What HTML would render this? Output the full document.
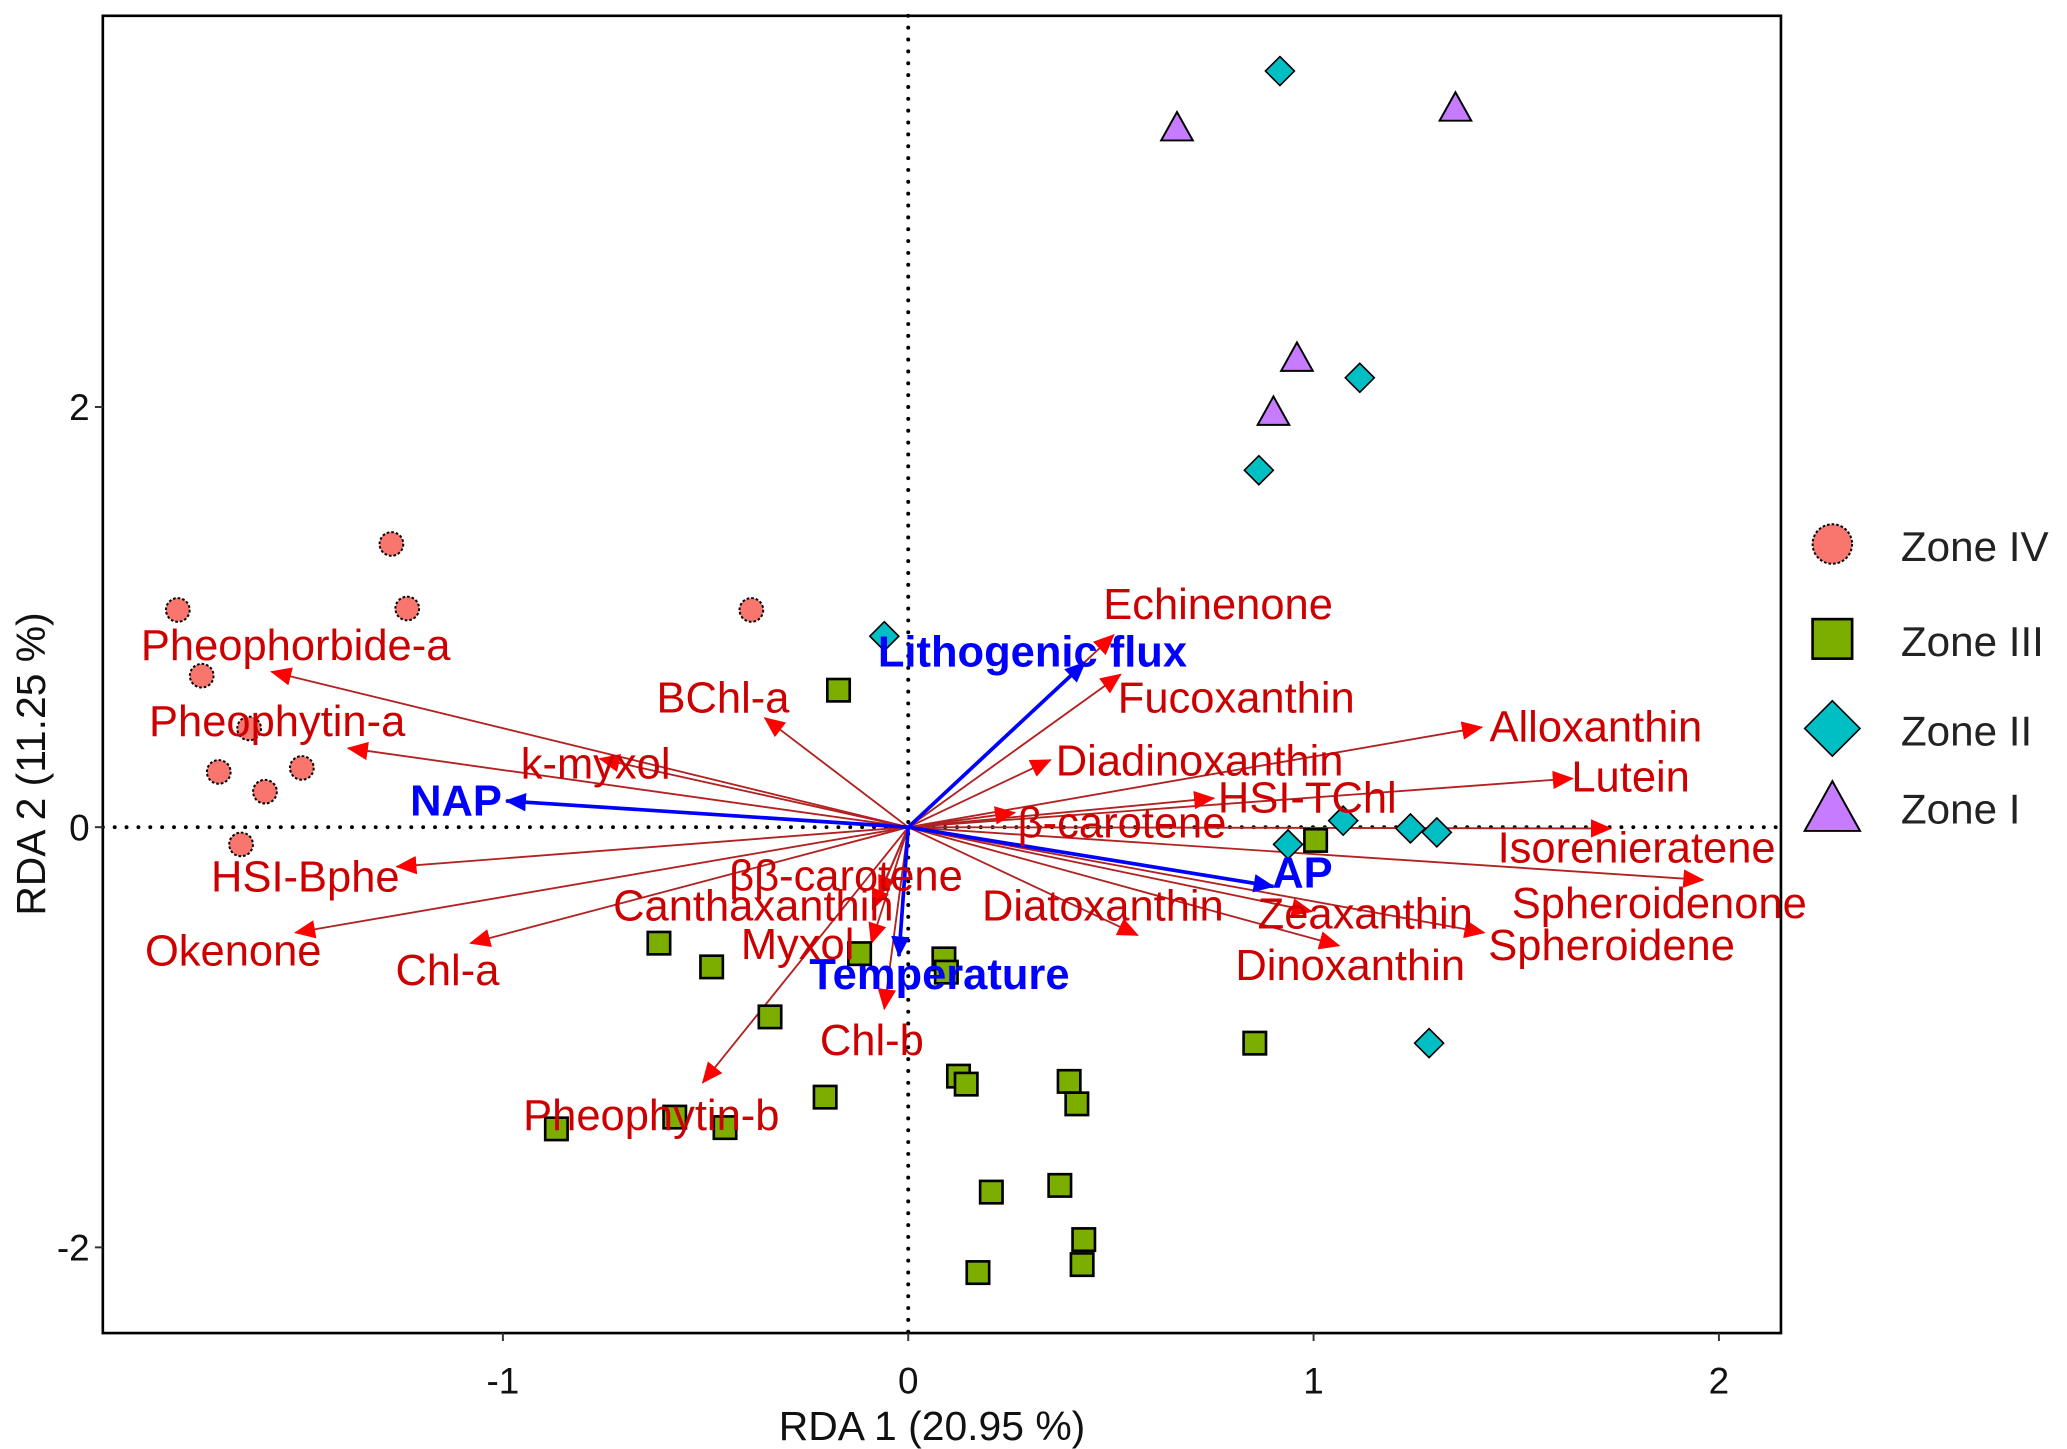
<!DOCTYPE html>
<html><head><meta charset="utf-8"><style>
html,body{margin:0;padding:0;background:#fff;}
svg{display:block;}
text{font-family:"Liberation Sans",sans-serif;}
</style></head><body>
<svg id="chart" width="2067" height="1449" viewBox="0 0 1568 1100" preserveAspectRatio="none" xmlns="http://www.w3.org/2000/svg">
<defs>
<marker id="ahR" markerWidth="16" markerHeight="14" refX="15" refY="7" orient="auto" markerUnits="userSpaceOnUse" viewBox="0 0 16 14"><path d="M0,0 L16,7 L0,14 z" fill="#ff0000"/></marker>
<marker id="ahB" markerWidth="16" markerHeight="14" refX="15" refY="7" orient="auto" markerUnits="userSpaceOnUse" viewBox="0 0 16 14"><path d="M0,0 L16,7 L0,14 z" fill="#0000ff"/></marker>
</defs>
<g id="plot"></g>
</svg>
<script>
// ---- data ----
const xTicks = [-1, 0, 1, 2];
const yTicks = [-2, 0, 2];
const z4x = [-1.275,-1.802,-1.236,-0.387,-1.743,-1.626,-1.701,-1.496,-1.587,-1.646];
const z4y = [1.348,1.034,1.041,1.034,0.721,0.470,0.263,0.282,0.169,-0.082];
const z3x = [-0.172,-0.615,-0.485,-0.341,-0.120,0.088,0.094,-0.205,0.124,0.143,0.397,0.416,0.855,1.005,-0.868,-0.576,-0.452,0.205,0.374,0.433,0.429,0.172];
const z3y = [0.652,-0.552,-0.665,-0.903,-0.602,-0.627,-0.690,-1.285,-1.185,-1.223,-1.210,-1.317,-1.028,-0.063,-1.436,-1.380,-1.430,-1.737,-1.705,-1.963,-2.082,-2.120];
const z2x = [0.917,1.114,0.865,-0.059,1.073,0.937,1.239,1.304,1.285];
const z2y = [3.599,2.139,1.699,0.909,0.031,-0.082,-0.006,-0.025,-1.028];
const z1x = [0.663,1.350,0.959,0.901];
const z1y = [3.329,3.423,2.232,1.975];
const pigNames = ["Echinenone","Fucoxanthin","Alloxanthin","Diadinoxanthin","Lutein","HSI-TChl","β-carotene","Isorenieratene","Spheroidenone","Spheroidene","Zeaxanthin","Dinoxanthin","Diatoxanthin","ββ-carotene","Canthaxanthin","Myxol","Chl-b","Pheophytin-b","Chl-a","Okenone","HSI-Bphe","k-myxol","Pheophytin-a","Pheophorbide-a","BChl-a"];
const pigX = [0.507,0.524,1.415,0.351,1.639,0.754,0.263,1.733,1.961,1.421,0.995,1.063,0.566,-0.072,-0.088,-0.091,-0.059,-0.507,-1.080,-1.512,-1.262,-0.761,-1.382,-1.571,-0.354];
const pigY = [0.915,0.727,0.476,0.320,0.232,0.138,0.069,-0.006,-0.251,-0.502,-0.401,-0.564,-0.514,-0.326,-0.389,-0.552,-0.865,-1.216,-0.552,-0.502,-0.188,0.326,0.376,0.740,0.520];
const pigLabX = [0.481,0.517,1.434,0.364,1.636,0.764,0.270,1.454,1.489,1.431,0.862,0.807,0.182,-0.442,-0.728,-0.413,-0.218,-0.950,-1.265,-1.883,-1.720,-0.956,-1.873,-1.893,-0.621];
const pigLabY = [0.991,0.545,0.408,0.245,0.169,0.069,-0.050,-0.169,-0.433,-0.633,-0.483,-0.727,-0.445,-0.301,-0.445,-0.627,-1.085,-1.442,-0.752,-0.658,-0.307,0.232,0.433,0.796,0.545];
const envNames = ["Lithogenic flux","NAP","AP","Temperature"];
const envX = [0.436,-0.992,0.901,-0.023];
const envY = [0.784,0.125,-0.282,-0.614];
const envLabX = [-0.075,-1.229,0.898,-0.244];
const envLabY = [0.765,0.056,-0.288,-0.771];
const xDomain = [-1.987, 2.153];
const yDomain = [-2.408, 3.862];

// ---- axis functions ----
const L=78, R=1351, T=12, B=1012;
function sx(v){return L + (v - xDomain[0])/(xDomain[1]-xDomain[0])*(R-L);}
function sy(v){return B - (v - yDomain[0])/(yDomain[1]-yDomain[0])*(B-T);}
const NS="http://www.w3.org/2000/svg";
const g=document.getElementById('plot');
function mk(tag,attrs,parent){const e=document.createElementNS(NS,tag);for(const k in attrs)e.setAttribute(k,attrs[k]);(parent||g).appendChild(e);return e;}

let e;
e=mk('line',{x1:L,x2:R,y1:sy(0),y2:sy(0),stroke:'#000','stroke-width':3,'stroke-dasharray':'0 9','stroke-linecap':'round'});


e=mk('line',{x1:sx(0),x2:sx(0),y1:T,y2:B,stroke:'#000','stroke-width':3,'stroke-dasharray':'0 9','stroke-linecap':'round'});



pigNames.forEach((n,i)=>{
  let a=mk('line',{x1:sx(0),y1:sy(0),x2:sx(pigX[i]),y2:sy(pigY[i]),stroke:'#b22222','stroke-width':1.4,'marker-end':'url(#ahR)'});
  
  
});
envNames.forEach((n,i)=>{
  let a=mk('line',{x1:sx(0),y1:sy(0),x2:sx(envX[i]),y2:sy(envY[i]),stroke:'#0000ff','stroke-width':2.8,'marker-end':'url(#ahB)'});
  
  
});

function circ(cx,cy,r){return mk('circle',{cx:cx,cy:cy,r:r,fill:'#f8766d',stroke:'#000','stroke-width':1.5,'stroke-dasharray':'2 1.5'});}
function sq(cx,cy,s){return mk('rect',{x:cx-s/2,y:cy-s/2,width:s,height:s,fill:'#7cae00',stroke:'#000','stroke-width':2});}
function dia(cx,cy,s){return mk('polygon',{points:`${cx},${cy-s} ${cx+s},${cy} ${cx},${cy+s} ${cx-s},${cy}`,fill:'#00bfc4',stroke:'#000','stroke-width':1.2});}
function tri(cx,cy,s){return mk('polygon',{points:`${cx},${cy-s} ${cx+s},${cy+s*0.8} ${cx-s},${cy+s*0.8}`,fill:'#c77cff',stroke:'#000','stroke-width':1.5});}
z4x.forEach((v,i)=>{let p=circ(sx(v),sy(z4y[i]),9);
  
  });
z3x.forEach((v,i)=>{let p=sq(sx(v),sy(z3y[i]),17);
  
  });
z2x.forEach((v,i)=>{let p=dia(sx(v),sy(z2y[i]),11);
  
  });
z1x.forEach((v,i)=>{let p=tri(sx(v),sy(z1y[i]),12);
  
  });

pigNames.forEach((n,i)=>{
  let t=mk('text',{x:sx(pigLabX[i]),y:sy(pigLabY[i]),fill:'#cc0000','font-size':33});
  t.textContent=n;
  
  
});
envNames.forEach((n,i)=>{
  let t=mk('text',{x:sx(envLabX[i]),y:sy(envLabY[i]),fill:'#0000ff','font-size':33,'font-weight':'bold'});
  t.textContent=n;
  
  
});

e=mk('rect',{x:L,y:T,width:R-L,height:B-T,fill:'none',stroke:'#000','stroke-width':2});



xTicks.forEach(v=>{
  let l=mk('line',{x1:sx(v),x2:sx(v),y1:B,y2:B+6,stroke:'#333','stroke-width':1.5});
  
  
  let t=mk('text',{x:sx(v),y:B+46,'text-anchor':'middle','font-size':28,fill:'#111'});
  t.textContent=v;
  
  
});
yTicks.forEach(v=>{
  let l=mk('line',{x1:L-6,x2:L,y1:sy(v),y2:sy(v),stroke:'#333','stroke-width':1.5});
  
  
  let t=mk('text',{x:L-10,y:sy(v)+10,'text-anchor':'end','font-size':28,fill:'#111'});
  t.textContent=v;
  
  
});

e=mk('text',{x:707,y:1093,'text-anchor':'middle','font-size':31,fill:'#111'});
e.textContent='RDA 1 (20.95 %)';


e=mk('text',{x:0,y:0,'text-anchor':'middle','font-size':31,fill:'#111',transform:'translate(34,580) rotate(-90)'});
e.textContent='RDA 2 (11.25 %)';



const legNames=['Zone IV','Zone III','Zone II','Zone I'];
const legY=[413,485,553,612];
legNames.forEach((n,i)=>{
  let s;
  if(i===0) s=circ(1390,legY[i],15);
  else if(i===1) s=sq(1390,legY[i],30);
  else if(i===2) s=dia(1390,legY[i],21);
  else s=tri(1390,legY[i]+2,21);
  
  
  let t=mk('text',{x:1442,y:legY[i]+13,'font-size':32,fill:'#222'});
  t.textContent=n;
  
  
});
</script>
</body></html>
